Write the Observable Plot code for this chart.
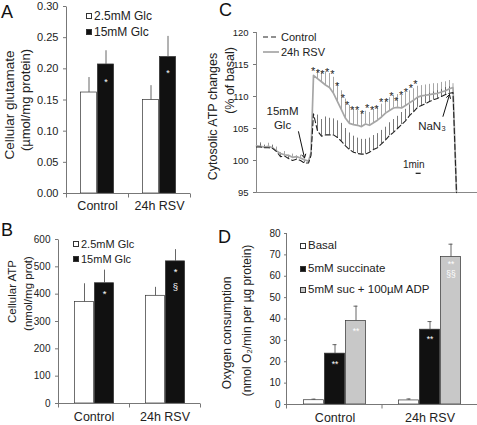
<!DOCTYPE html>
<html>
<head>
<meta charset="utf-8">
<script src="https://cdn.jsdelivr.net/npm/d3@7"></script>
<script src="https://cdn.jsdelivr.net/npm/@observablehq/plot@0.6"></script>
<style>
  html, body { margin: 0; padding: 0; background: #fff; }
  #fig { position: relative; width: 477px; height: 425px; overflow: hidden; background: #fff;
         font-family: 'Liberation Sans', Arial, Helvetica, sans-serif; color: #222; }
  .panel { position: absolute; }
  .panel svg { overflow: visible; }
  .letter { position: absolute; font-size: 18px; line-height: 18px; color: #111; }
  .leg { position: absolute; display: flex; align-items: center; white-space: nowrap; color: #222; }
  .sw { display: inline-block; box-sizing: border-box; border: 1px solid #333; margin-right: 2px; }
</style>
</head>
<body>
<div id="fig"></div>
<script>
const FONT = "'Liberation Sans', Arial, Helvetica, sans-serif";

// ---------- Panel A: cellular glutamate ----------
const catsAB = ["Control", "24h RSV"];
const seriesAB = ["2.5mM Glc", "15mM Glc"];
const gluControl = [0.162, 0.207];
const gluRSV = [0.150, 0.219];
const gluControlErr = [0.024, 0.022];
const gluRSVErr = [0.023, 0.033];
const gluTicks = [0, 0.05, 0.10, 0.15, 0.20, 0.25, 0.30];
const gluStarY = [0.182, 0.196];   // "*" in the 15mM bars

// ---------- Panel B: cellular ATP ----------
const atpControl = [371, 440];
const atpRSV = [394, 520];
const atpControlErr = [67, 48];
const atpRSVErr = [31, 43];
const atpTicks = [0, 100, 200, 300, 400, 500, 600];
const atpMarks = [
  {cat: "Control", series: "15mM Glc", value: 407, label: "*"},
  {cat: "24h RSV", series: "15mM Glc", value: 488, label: "*"},
  {cat: "24h RSV", series: "15mM Glc", value: 434, label: "§"}
];

// ---------- Panel C: cytosolic ATP time course ----------
const tMin = [0,0.8,1.6,2.4,3.2,4.0,4.8,5.6,6.4,7.2,8.0,8.8,9.6,10.4,10.9,11.4,12.2,13.0,13.8,14.6,
  15.4,16.2,17.0,17.8,18.6,19.4,20.2,21.0,21.8,22.6,23.4,24.2,25.0,25.8,26.6,27.4,28.2,29.0,29.8,30.6,
  31.4,32.2,33.0,33.8,34.6,35.4,36.2,37.0,37.8,38.6,39.3,40.0];
const ctrlMean = [102.1,102.1,102.0,102.0,101.9,101.4,100.6,100.7,100.3,100.0,
  100.2,100.0,99.6,99.6,100.8,107.3,104.6,103.8,104.0,104.0,
  104.0,103.6,103.0,102.3,101.7,101.3,101.1,101.0,101.0,101.3,
  101.7,102.0,102.6,103.2,103.9,104.4,105.0,105.6,106.2,107.0,
  107.6,108.3,108.6,108.9,109.2,109.5,109.7,110.0,110.3,110.5,
  110.6,95.0];
const ctrlSem = [0,0.5,0.4,0,0.5,0,0.6,0,0.5,0,
  0.5,0,0.4,0,0,0,2.5,2.6,2.8,2.6,
  2.5,2.6,2.8,2.7,2.6,2.5,2.4,2.3,2.3,2.2,
  2.2,2.2,2.1,2.0,2.0,2.0,1.9,1.9,1.8,1.7,
  1.6,1.5,1.4,1.4,1.3,1.2,1.2,1.1,1.1,1.0,
  0,0];
const rsvMean = [102.3,102.2,102.1,102.2,102.0,101.5,101.1,100.9,100.8,100.5,
  100.6,100.4,100.1,99.9,101.2,113.3,112.8,112.3,111.8,111.4,
  110.5,109.2,107.9,106.6,105.8,105.6,105.5,105.3,105.7,105.5,
  105.9,106.3,106.8,107.4,107.8,108.2,108.3,108.2,108.6,109.0,
  109.4,109.9,110.1,110.2,110.3,110.4,110.5,110.7,110.9,111.2,
  111.4,95.0];
const rsvSem = [0,0.6,0,0.5,0,0.6,0,0.5,0,0.5,
  0,0.4,0,0,0,0,1.2,1.6,2.0,2.2,
  2.5,2.8,3.0,3.0,2.8,2.5,2.3,2.2,2.0,2.0,
  2.0,2.0,2.0,2.0,2.0,2.0,2.0,2.0,2.0,1.9,
  1.8,1.7,1.6,1.6,1.6,1.6,1.5,1.5,1.4,1.3,
  0.6,0];
const starT = [11.33,12.27,13.2,14.13,15.2,16.13,17.27,18.13,19.13,20.13,21.13,22.13,23.13,24.0,24.93,26.0,27.0,27.93,28.93,29.87,30.87,31.8];
const starV = [114.4,114.0,113.85,114.2,113.85,112.1,110.2,109.0,108.3,108.3,107.6,108.6,108.3,108.5,109.6,109.6,110.5,109.7,110.7,111.1,111.8,112.3];
const cTicks = [95, 100, 105, 110, 115, 120];
const cNotes = [
  {t: 5.2, v: 106.75, text: "15mM\nGlc"},
  {t: 35.1, v: 105.5, text: "NaN₃"},
  {t: 31.45, v: 99.3, text: "1min"}
];
const cArrows = [
  {t1: 8.4, v1: 104.5, t2: 9.6, v2: 100.4},
  {t1: 37.3, v1: 106.9, t2: 38.6, v2: 110.3}
];
const scaleBar = [{t1: 31.93, t2: 32.93, v: 98.0}];

// ---------- Panel D: oxygen consumption ----------
const catsD = ["Control", "24h RSV"];
const seriesD = ["Basal", "5mM succinate", "5mM suc + 100µM ADP"];
const o2Control = [2.0, 23.8, 39.1];
const o2RSV = [1.9, 35.0, 69.0];
const o2ControlErr = [0.5, 4.2, 6.9];
const o2RSVErr = [0.7, 3.8, 6.0];
const o2Ticks = [0, 10, 20, 30, 40, 50, 60, 70, 80];
const o2Marks = [
  {cat: "Control", series: "5mM succinate", value: 19.7, label: "**"},
  {cat: "Control", series: "5mM suc + 100µM ADP", value: 35.4, label: "**"},
  {cat: "24h RSV", series: "5mM succinate", value: 31.5, label: "**"},
  {cat: "24h RSV", series: "5mM suc + 100µM ADP", value: 66.5, label: "**"},
  {cat: "24h RSV", series: "5mM suc + 100µM ADP", value: 61.8, label: "§§"}
];

// ---------- helpers ----------
function rowsFrom(cats, series, byCat, errByCat) {
  const out = [];
  cats.forEach((c, i) => series.forEach((s, j) =>
    out.push({cat: c, series: s, value: byCat[i][j], err: errByCat[i][j]})));
  return out;
}

function addAxisFurniture(plot) {
  const fxS = plot.scale("fx"), yS = plot.scale("y");
  const [x0, x1] = fxS.range;
  const n = fxS.domain.length;
  const step = (x1 - x0) / n;
  const [yb, yt] = yS.range;
  const g = d3.select(plot).append("g").attr("stroke", "#777").attr("stroke-width", 1)
    .attr("transform", "translate(0.5,0.5)");
  g.append("line").attr("x1", x0).attr("x2", x0).attr("y1", yb).attr("y2", yt);
  for (let i = 0; i <= n; i++) {
    const x = x0 + i * step;
    g.append("line").attr("x1", x).attr("x2", x).attr("y1", yb).attr("y2", yb + 4);
  }
}

function barPanel(o) {
  const plot = Plot.plot({
    width: o.width, height: o.height,
    marginLeft: o.ml, marginRight: o.mr, marginTop: o.mt, marginBottom: o.mb,
    style: {fontFamily: FONT, color: "#222", background: "transparent", overflow: "visible"},
    fx: {domain: o.cats, paddingInner: 0, paddingOuter: 0},
    x: {domain: o.series, paddingInner: 0, paddingOuter: o.po, axis: null},
    y: {domain: o.yDomain},
    color: {domain: o.series, range: o.fills},
    marks: [
      Plot.axisY({ticks: o.yTicks, tickFormat: o.yFormat, tickSize: 3, tickPadding: o.tp,
                  fontSize: o.tickFont, label: null, stroke: "#777"}),
      Plot.axisFx({anchor: "bottom", tickSize: 0, tickPadding: o.catPad, fontSize: o.catFont, label: null}),
      Plot.barY(o.rows, {fx: "cat", x: "series", y: "value", fill: "series",
                         stroke: "#333", strokeWidth: 0.7, insetLeft: 0.4, insetRight: 0.4}),
      Plot.ruleX(o.rows, {fx: "cat", x: "series", y1: "value", y2: d => d.value + d.err,
                          stroke: "#555", strokeWidth: 0.9}),
      ...(o.caps ? [Plot.tickY(o.rows, {fx: "cat", x: "series", y: d => d.value + d.err,
                          stroke: "#555", strokeWidth: 0.9, insetLeft: o.caps, insetRight: o.caps})] : []),
      Plot.ruleY([o.yDomain[0]], {stroke: "#777"}),
      Plot.text(o.notes, {fx: "cat", x: "series", y: "value", text: "label", fill: "white",
                          fontSize: o.noteFont, dy: 2}),
      ...o.ylab.map(l => Plot.text([l.text], {fx: () => o.cats[0], frameAnchor: "left", rotate: -90,
                          textAnchor: "middle", lineAnchor: "middle",
                          dx: l.dx, dy: l.dy, fontSize: l.size, fill: "#222"}))
    ]
  });
  addAxisFurniture(plot);
  return plot;
}

const fig = document.getElementById("fig");
function place(node, left, top) {
  const d = document.createElement("div");
  d.className = "panel"; d.style.left = left + "px"; d.style.top = top + "px";
  d.appendChild(node); fig.appendChild(d);
}
function letter(t, left, top) {
  const d = document.createElement("div");
  d.className = "letter"; d.textContent = t;
  d.style.left = left + "px"; d.style.top = top + "px"; fig.appendChild(d);
}
function legendRow(left, cy, size, text, swatch) {
  const d = document.createElement("div");
  d.className = "leg";
  d.style.left = left + "px"; d.style.top = (cy - size / 2) + "px";
  d.style.height = size + "px"; d.style.fontSize = size + "px"; d.style.lineHeight = size + "px";
  if (swatch.html) {
    const s = document.createElement("span");
    s.innerHTML = swatch.html; s.style.display = "inline-flex"; s.style.marginRight = "2px";
    d.appendChild(s);
  } else {
    const s = document.createElement("span");
    s.className = "sw"; s.style.width = swatch.w + "px"; s.style.height = swatch.w + "px";
    s.style.background = swatch.fill; d.appendChild(s);
  }
  d.appendChild(document.createTextNode(text));
  fig.appendChild(d);
}

// ---------- A ----------
const rowsA = rowsFrom(catsAB, seriesAB, [gluControl, gluRSV], [gluControlErr, gluRSVErr]);
const notesA = [
  {cat: "Control", series: "15mM Glc", value: gluStarY[0], label: "*"},
  {cat: "24h RSV", series: "15mM Glc", value: gluStarY[1], label: "*"}
];
place(barPanel({
  width: 200, height: 222, ml: 66, mr: 10, mt: 6, mb: 29,
  cats: catsAB, series: seriesAB, rows: rowsA, po: 0.77,
  yDomain: [0, 0.30], yTicks: gluTicks, yFormat: d3.format(".2f"), tp: 5, tickFont: 11,
  fills: ["#ffffff", "#111111"], catPad: 8, catFont: 12.5, notes: notesA, noteFont: 9,
  ylab: [{text: "Cellular glutamate", dx: -57, dy: 5, size: 13.5},
         {text: "(µmol/mg protein)", dx: -41, dy: 0, size: 13}]
}), 0, 0);
legendRow(86, 16, 12, "2.5mM Glc", {w: 6, fill: "#fff"});
legendRow(86, 32, 12, "15mM Glc", {w: 6, fill: "#111"});

// ---------- B ----------
const rowsB = rowsFrom(catsAB, seriesAB, [atpControl, atpRSV], [atpControlErr, atpRSVErr]);
place(barPanel({
  width: 210, height: 203, ml: 58, mr: 10, mt: 17, mb: 22,
  cats: catsAB, series: seriesAB, rows: rowsB, po: 0.73,
  yDomain: [0, 600], yTicks: atpTicks, yFormat: d3.format("d"), tp: 5, tickFont: 10,
  fills: ["#ffffff", "#111111"], catPad: 9, catFont: 12.5, notes: atpMarks, noteFont: 9.5,
  ylab: [{text: "Cellular ATP", dx: -46, dy: -30, size: 11.5},
         {text: "(nmol/mg prot)", dx: -30, dy: -28, size: 11.5}]
}), 0, 222);
legendRow(73, 244, 11, "2.5mM Glc", {w: 6, fill: "#fff"});
legendRow(73, 259, 11, "15mM Glc", {w: 6, fill: "#111"});

// ---------- C ----------
const rowsC = tMin.map((t, i) => ({t, ctrl: ctrlMean[i], ctrlErr: ctrlSem[i], rsv: rsvMean[i], rsvErr: rsvSem[i]}));
const starsC = starT.map((t, i) => ({t, v: starV[i]}));
const plotC = Plot.plot({
  width: 277, height: 205, marginLeft: 56, marginRight: 0, marginTop: 32, marginBottom: 13,
  style: {fontFamily: FONT, color: "#222", background: "transparent", overflow: "visible"},
  x: {domain: [0, 44.2], axis: null},
  y: {domain: [95, 120]},
  marks: [
    Plot.axisY({ticks: cTicks, tickSize: 3, tickPadding: 5, fontSize: 9.5, label: null, stroke: "#777"}),
    Plot.ruleX([0], {stroke: "#888"}),
    Plot.ruleY([95], {stroke: "#888"}),
    Plot.ruleX(rowsC.filter(d => d.rsvErr > 0), {x: "t", y1: "rsv", y2: d => d.rsv + d.rsvErr, stroke: "#9c9c9c", strokeWidth: 0.9}),
    Plot.ruleX(rowsC.filter(d => d.ctrlErr > 0), {x: "t", y1: "ctrl", y2: d => d.ctrl + d.ctrlErr, stroke: "#555", strokeWidth: 0.8}),
    Plot.line(rowsC, {x: "t", y: "rsv", stroke: "#a6a6a6", strokeWidth: 1.7}),
    Plot.line(rowsC, {x: "t", y: "ctrl", stroke: "#222", strokeWidth: 1.1, strokeDasharray: "5,3"}),
    Plot.text(starsC, {x: "t", y: "v", text: () => "*", fontSize: 11, dy: 3, fill: "#222"}),
    Plot.text(cNotes.slice(0, 2), {x: "t", y: "v", text: "text", fontSize: 11.5, lineHeight: 1.2, fill: "#222"}),
    Plot.text(cNotes.slice(2), {x: "t", y: "v", text: "text", fontSize: 10, fill: "#222"}),
    Plot.arrow(cArrows, {x1: "t1", y1: "v1", x2: "t2", y2: "v2", stroke: "#111", strokeWidth: 1, headLength: 6}),
    Plot.ruleY(scaleBar, {x1: "t1", x2: "t2", y: "v", stroke: "#111", strokeWidth: 1.2}),
    Plot.text(["Cytosolic ATP changes"], {frameAnchor: "left", rotate: -90, textAnchor: "middle", lineAnchor: "middle",
                                         dx: -44, dy: 4, fontSize: 12.5, fill: "#222"}),
    Plot.text(["(% of basal)"], {frameAnchor: "left", rotate: -90, textAnchor: "middle", lineAnchor: "middle",
                                 dx: -27, dy: -32, fontSize: 12.5, fill: "#222"})
  ]
});
place(plotC, 200, 0);
legendRow(263, 37, 11, "Control", {html: '<svg width="16" height="4"><line x1="0" y1="2" x2="16" y2="2" stroke="#222" stroke-width="1.1" stroke-dasharray="5,3"/></svg>'});
legendRow(263, 52, 11, "24h RSV", {html: '<svg width="16" height="4"><line x1="0" y1="2" x2="16" y2="2" stroke="#a6a6a6" stroke-width="1.7"/></svg>'});

// ---------- D ----------
const rowsD = rowsFrom(catsD, seriesD, [o2Control, o2RSV], [o2ControlErr, o2RSVErr]);
place(barPanel({
  width: 262, height: 203, ml: 71, mr: 0, mt: 11, mb: 21,
  cats: catsD, series: seriesD, rows: rowsD, po: 0.73,
  yDomain: [0, 80], yTicks: o2Ticks, yFormat: d3.format("d"), tp: 4, tickFont: 10,
  fills: ["#ffffff", "#111111", "#c8c8c8"], catPad: 9, catFont: 12.5, notes: o2Marks, noteFont: 8.5,
  caps: 8.5,
  ylab: [{text: "Oxygen consumption", dx: -60, dy: 14, size: 12},
         {text: "(nmol O₂/min per µg protein)", dx: -40, dy: 1.5, size: 12}]
}), 215, 222);
legendRow(300, 246, 11.5, "Basal", {w: 6, fill: "#fff"});
legendRow(300, 269, 11.5, "5mM succinate", {w: 6, fill: "#111"});
legendRow(300, 290, 11.5, "5mM suc + 100µM ADP", {w: 6, fill: "#c8c8c8"});

// ---------- panel letters ----------
letter("A", 1, 3);
letter("B", 1, 221);
letter("C", 219, 1);
letter("D", 218, 228);
</script>
</body>
</html>
